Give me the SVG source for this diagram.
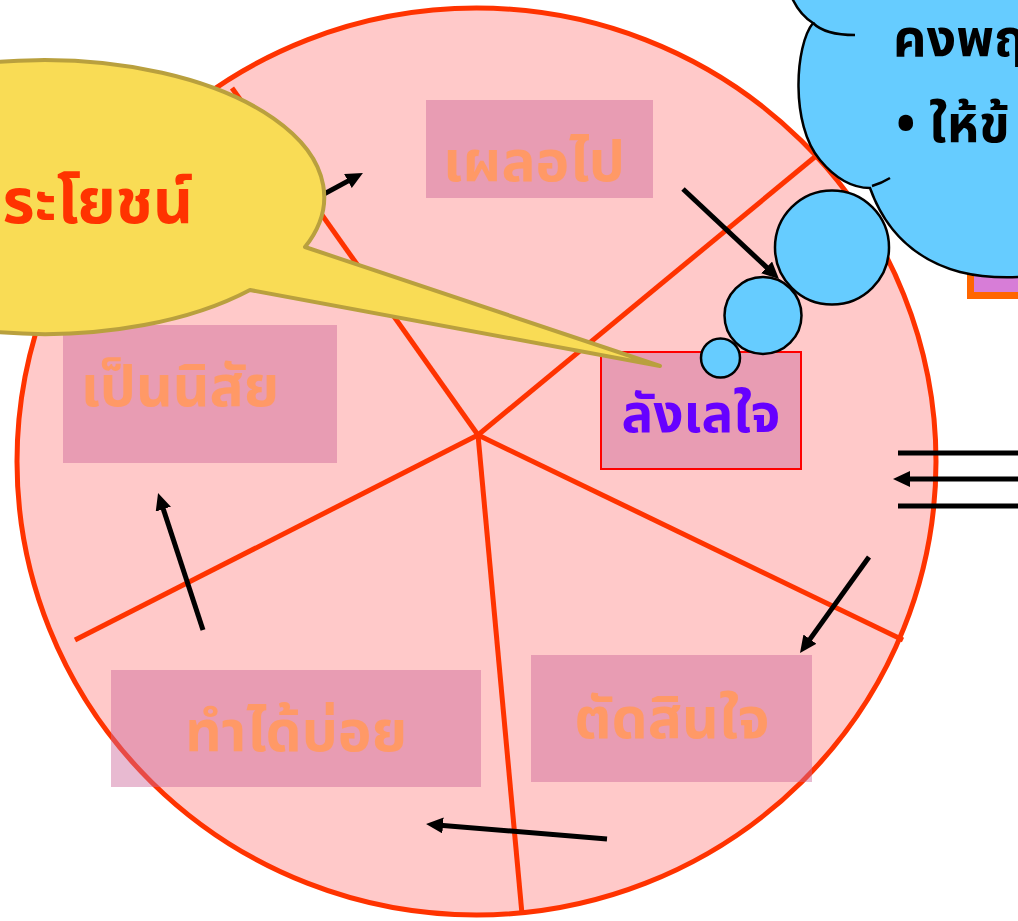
<svg xmlns="http://www.w3.org/2000/svg" width="1018" height="921" viewBox="0 0 1018 921">
  <style>
    .spoke { stroke: #FF3300; stroke-width: 5; fill: none; }
    .box { fill: #CC6699; fill-opacity: 0.45; }
    .lbl { font-family: "Noto Sans Thai", "Noto Serif Thai", "Loma", "Garuda", "Norasi", "Noto Sans", sans-serif; font-weight: bold; text-anchor: middle; }
    .faded { fill: #FF9966; font-size: 57px; }
    .arrow { stroke: #000; stroke-width: 5; fill: none; marker-end: url(#head); }
    .puff { fill: #66CCFF; stroke: #000; stroke-width: 2.5; }
    .cloudtxt { font-family: "Noto Sans Thai", "Noto Serif Thai", "Loma", "Garuda", "Norasi", "Noto Sans", sans-serif; font-weight: bold; font-size: 52px; fill: #000; }
  </style>
  <defs>
    <marker id="head" markerUnits="userSpaceOnUse" markerWidth="20" markerHeight="20" refX="3" refY="8" orient="auto">
      <path d="M0,0 L17,8 L0,16 Z" fill="#000"/>
    </marker>
  </defs>

  <!-- wheel -->
  <g id="wheel">
    <ellipse cx="476.5" cy="461.5" rx="459.5" ry="453.5" fill="#FFC9C9" stroke="#FF3300" stroke-width="5"/>
    <line class="spoke" x1="478" y1="435" x2="232" y2="88"/>
    <line class="spoke" x1="478" y1="435" x2="816" y2="156"/>
    <line class="spoke" x1="478" y1="435" x2="75" y2="640"/>
    <line class="spoke" x1="478" y1="435" x2="522" y2="914"/>
    <line class="spoke" x1="478" y1="435" x2="903" y2="640"/>
  </g>

  <!-- stage boxes -->
  <g id="node-slip">
    <rect class="box" x="426" y="100" width="227" height="98"/>
    <text class="lbl faded" x="534" y="181">เผลอไป</text>
  </g>
  <g id="node-habit">
    <rect class="box" x="63" y="325" width="274" height="138"/>
    <text class="lbl faded" x="180" y="406">เป็นนิสัย</text>
  </g>
  <g id="node-hesitate">
    <rect class="box" x="601" y="352" width="200" height="117" stroke="#FF0000" stroke-width="2"/>
    <text class="lbl" x="701" y="432" fill="#6600FF" font-size="53">ลังเลใจ</text>
  </g>
  <g id="node-often">
    <rect class="box" x="111" y="670" width="370" height="117"/>
    <text class="lbl faded" x="296" y="751">ทำได้บ่อย</text>
  </g>
  <g id="node-decide">
    <rect class="box" x="531" y="655" width="281" height="127"/>
    <text class="lbl faded" x="672" y="738">ตัดสินใจ</text>
  </g>

  <!-- connectors -->
  <g id="connectors">
    <line class="arrow" x1="300" y1="207" x2="350.6" y2="179.6"/>
    <line class="arrow" x1="683" y1="189" x2="768.8" y2="269.4"/>
    <line class="arrow" x1="1018" y1="479" x2="907" y2="479"/>
    <line x1="898" y1="453" x2="1018" y2="453" stroke="#000" stroke-width="5"/>
    <line x1="898" y1="506" x2="1018" y2="506" stroke="#000" stroke-width="5"/>
    <line class="arrow" x1="869" y1="557" x2="808.2" y2="641.6"/>
    <line class="arrow" x1="607" y1="839" x2="440" y2="825.2"/>
    <line class="arrow" x1="203" y1="630" x2="162.4" y2="506.3"/>
  </g>

  <!-- thought cloud -->
  <g id="node-thought">
    <rect x="970.5" y="200" width="60" height="95.5" fill="#D77DD7" stroke="#FF6600" stroke-width="7"/>
    <path class="puff" d="M792,-2 Q800,15 813,23 C795,45 790,125 820,160 C835,178 852,188 870,188 C885,230 915,260 960,272 C980,277 1000,278 1020,277 L1020,-2 Z"/>
    <path d="M813,23 Q825,35 855,35" fill="none" stroke="#000" stroke-width="2.5"/>
    <path d="M872,186 Q882,183 890,178" fill="none" stroke="#000" stroke-width="2.5"/>
    <circle class="puff" cx="832" cy="247.5" r="57"/>
    <circle class="puff" cx="763" cy="315.5" r="38.5"/>
    <circle class="puff" cx="720.5" cy="358" r="19.5"/>
    <text class="cloudtxt" x="893" y="56">คงพฤ</text>
    <text class="cloudtxt" x="896" y="142">• ให้ข้</text>
  </g>

  <!-- speech bubble -->
  <g id="node-benefit">
    <path d="M305,247 A280,137 0 1 0 250,290 L660,366 Z" fill="#F9DC55" stroke="#B9A03E" stroke-width="4" stroke-linejoin="round"/>
    <text x="193" y="223" font-family="Noto Sans Thai, Noto Serif Thai, Loma, Garuda, Norasi, Noto Sans, sans-serif" font-weight="bold" font-size="62" fill="#FF3300" text-anchor="end">ระโยชน์</text>
  </g>
</svg>
